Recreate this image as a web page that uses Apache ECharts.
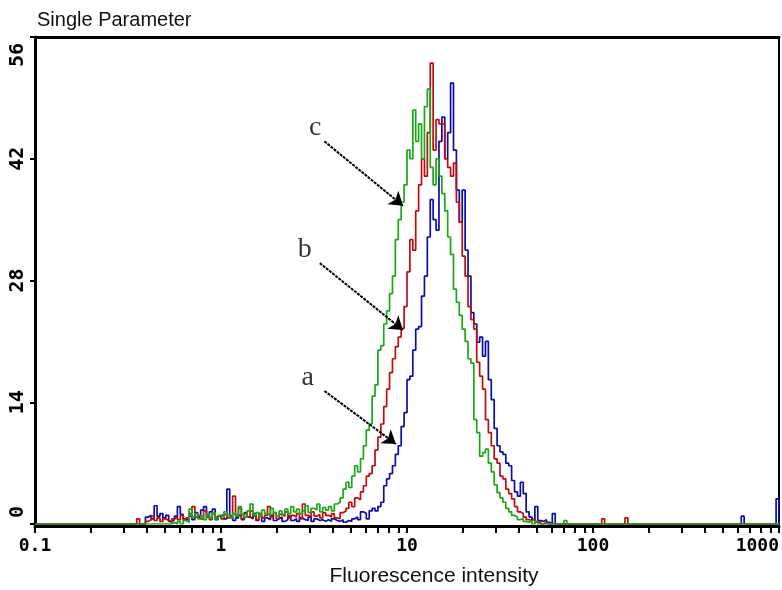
<!DOCTYPE html>
<html><head><meta charset="utf-8">
<script src="https://cdn.jsdelivr.net/npm/echarts@6/dist/echarts.min.js"></script>
<style>html,body{margin:0;padding:0;background:#fff}#c{width:782px;height:590px}</style>
</head><body><div id="c"></div>
<script>
// Channels: 64 log-spaced channels per decade, 0 = 0.1, 256 = 1000
const firstChannel = 34;
const lastChannel = 256;
const decadeChannels = [0, 64, 128, 192, 256];
const tickLabels = ['0.1', '1', '10', '100', '1000'];
const yMax = 56;
const yInterval = 14;

// counts for channels 34..179
const blueCounts = [
 0,0,0,0,0.8,1.0,0.6,2.1,0.9,1.2,
 0.7,1.0,0.3,0.5,0.9,2.0,1.1,0.6,0.4,0.9,
 0.5,1.3,0.7,1.6,2.0,0.8,1.4,1.7,0.5,0.9,
 1.1,0.6,4.0,0.9,0.4,0.7,1.0,0.5,1.3,0.8,
 0.6,1.2,0.4,0.9,0.3,0.7,0.5,1.0,0.4,0.6,
 0.8,0.3,0.5,0.9,0.4,0.6,0.3,0.7,0.5,0.4,
 0.8,0.3,0.6,0.4,0.5,0.3,0.5,0.3,0.6,0.4,
 0.3,0.5,0.2,0.4,0.3,0.6,0.8,0.5,1.4,1.2,
 0.6,1.5,1.8,1.5,2.0,2.5,4.4,5.2,5.8,6.7,
 8.0,9.0,11.2,12.8,16.6,17.0,20.0,22.4,22.7,26.2,
 28.5,33.0,37.3,35.0,33.8,44.0,46.8,42.0,45.0,50.7,
 43.0,38.4,34.7,38.4,31.5,28.5,24.3,23.0,20.9,21.5,
 19.3,21.0,16.6,14.3,11.0,9.0,8.3,8.0,7.0,6.7,
 5.0,3.7,3.2,4.8,3.5,1.4,0.8,0.5,2.0,0.4,
 0.3,0.5,0.2,0,1.2,0
];
const redCounts = [
 0,0.6,0,0,0.3,0.5,0.9,0.4,0.7,0.3,
 0.6,0.4,0.2,0.6,0.8,0.5,1.0,0.4,0.7,1.2,
 2.0,0.8,1.0,0.6,1.5,0.9,0.5,1.2,0.8,1.0,
 0.6,1.1,0.7,0.9,3.2,1.0,1.8,0.6,1.2,0.8,
 1.5,0.9,0.5,1.2,0.7,1.0,2.0,0.8,1.3,0.6,
 1.1,0.9,1.4,0.7,1.0,0.8,1.2,0.6,2.3,1.0,
 0.8,1.4,0.9,1.1,0.7,1.3,1.0,0.8,1.2,0.7,
 0.6,1.3,1.5,1.8,2.5,2.0,3.0,2.8,3.7,4.4,
 5.5,5.8,6.7,8.5,10.0,11.5,13.5,15.5,17.4,19.0,
 20.4,21.5,22.5,25.0,29.0,32.7,31.5,36.0,39.0,42.0,
 40.0,45.0,53.0,43.0,46.5,46.0,46.0,42.0,41.0,40.0,
 41.5,37.0,34.7,30.8,28.5,25.0,23.5,22.4,18.6,17.0,
 15.5,12.0,10.5,9.0,7.5,7.0,5.5,5.2,4.0,3.5,
 2.9,2.0,1.4,1.2,0.8,0.5,0.4,0.6,0.2,0.3,
 0,0.2,0,0,0,0
];
const greenCounts = [
 0,0,0,0,0,0,0,0,0,0,
 0,0,0,0.2,0,0.3,0,0.4,0.2,1.7,
 0.8,1.2,0.6,0.9,0.5,1.1,0.7,1.3,0.6,1.0,
 0.8,1.4,1.0,0.7,1.2,0.9,2.0,1.1,0.8,1.5,
 2.3,1.0,1.3,0.9,1.6,1.2,1.0,1.8,1.3,0.9,
 1.5,1.1,1.7,1.2,2.0,1.4,1.7,1.2,1.5,2.1,
 1.3,1.8,1.6,2.3,1.4,1.9,1.6,2.0,1.5,2.3,
 2.5,3.0,4.0,4.8,4.2,5.5,6.7,6.0,7.5,9.0,
 10.8,11.5,14.7,16.0,20.0,20.5,23.0,24.5,26.5,28.5,
 32.7,35.0,37.0,39.0,43.0,42.0,47.6,44.0,46.0,42.0,
 48.0,50.0,41.0,39.0,42.0,40.0,38.0,36.0,33.0,31.0,
 27.0,25.5,24.0,22.4,21.0,19.0,18.5,12.0,10.5,7.8,
 8.2,8.6,7.0,6.0,4.5,3.6,3.0,2.5,1.8,1.4,
 1.0,0.8,0.5,0.6,0.3,0.2,0.4,0,0.3,0,
 0,0,0,0,0,0
];
// isolated events above channel 179: [channel, count]
const blueTail = [[243, 0.9], [255, 2.9]];
const redTail = [[195, 0.6], [203, 0.7]];
const greenTail = [[182, 0.4]];

// annotations (data coordinates: channel, count)
const annotationLabels = ['a', 'b', 'c'];
const labelAnchors = [[93.8, 16.8], [92.8, 31.6], [96.4, 45.6]];
const arrowFrom = [[99.6, 15.3], [98.0, 30.0], [99.6, 44.0]];
const arrowTo = [[124.2, 9.2], [126.6, 22.3], [126.6, 36.6]];

function toSteps(counts, tail) {
  const pts = [[0, 0]];
  counts.forEach((v, i) => pts.push([firstChannel + i, v]));
  tail.forEach(p => { pts.push([p[0], p[1]]); pts.push([p[0] + 1, 0]); });
  if (pts[pts.length - 1][0] < lastChannel) pts.push([lastChannel, 0]);
  return pts;
}

const perDecade = decadeChannels[1] - decadeChannels[0];
const tickChannels = [];
for (let d = 0; d < decadeChannels.length - 1; d++) {
  for (let k = 1; k <= 9; k++) tickChannels.push(decadeChannels[d] + perDecade * Math.log10(k));
}
tickChannels.push(decadeChannels[decadeChannels.length - 1]);

const monoFont = {fontFamily: 'DejaVu Sans Mono', fontWeight: 'bold', fontSize: 18, color: '#000'};
const yFont = {fontFamily: 'DejaVu Sans Mono', fontWeight: 'bold', fontSize: 20, color: '#000'};

const chart = echarts.init(document.getElementById('c'), null, {renderer: 'canvas'});
const lineSeries = (name, counts, tail, color, z) => ({
  name, type: 'line', step: 'end', symbol: 'none', z,
  data: toSteps(counts, tail),
  lineStyle: {color, width: 1.7},
  itemStyle: {color},
  emphasis: {disabled: true}, silent: true
});

chart.setOption({
  animation: false,
  backgroundColor: '#fff',
  title: {
    text: 'Single Parameter', left: 37, top: 10, padding: 0,
    textStyle: {fontFamily: 'Liberation Sans', fontSize: 20, fontWeight: 'normal', color: '#111'}
  },
  graphic: [{
    type: 'text', x: 434, y: 566, silent: true,
    style: {text: 'Fluorescence intensity', font: '21px "Liberation Sans"', fill: '#111', align: 'center', verticalAlign: 'top'}
  }],
  grid: {left: 35, right: 2, top: 37, bottom: 66},
  xAxis: [{
    type: 'value', min: 0, max: lastChannel, position: 'bottom', offset: 2,
    axisLine: {show: true, onZero: false, lineStyle: {color: '#000', width: 3}},
    axisTick: {show: true, customValues: tickChannels, length: 7, lineStyle: {color: '#000', width: 2}},
    axisLabel: Object.assign({
      customValues: decadeChannels,
      formatter: v => tickLabels[decadeChannels.indexOf(v)],
      margin: 11, alignMinLabel: 'center', alignMaxLabel: 'right'
    }, monoFont),
    splitLine: {show: false}
  }, {
    type: 'value', min: 0, max: lastChannel, position: 'top',
    axisLine: {show: true, onZero: false, lineStyle: {color: '#000', width: 3}},
    axisTick: {show: false}, axisLabel: {show: false}, splitLine: {show: false}
  }],
  yAxis: [{
    type: 'value', min: 0, max: yMax, interval: yInterval,
    axisLine: {show: true, onZero: false, lineStyle: {color: '#000', width: 3}},
    axisTick: {show: true, length: 5, lineStyle: {color: '#000', width: 2}},
    axisLabel: Object.assign({
      rotate: 90, margin: 7,
      formatter: v => v === 0 ? '  ' + v : (v === yMax ? v + '   ' : String(v))
    }, yFont),
    splitLine: {show: false}
  }, {
    type: 'value', min: 0, max: yMax, position: 'right',
    axisLine: {show: true, onZero: false, lineStyle: {color: '#000', width: 2}},
    axisTick: {show: false}, axisLabel: {show: false}, splitLine: {show: false}
  }],
  series: [
    lineSeries('a', blueCounts, blueTail, '#0c0cae', 2),
    lineSeries('b', redCounts, redTail, '#bd0d0d', 3),
    lineSeries('c', greenCounts, greenTail, '#18a818', 4),
    {
      type: 'scatter', z: 6, silent: true, symbolSize: 1,
      itemStyle: {color: 'rgba(0,0,0,0)'},
      data: annotationLabels.map((t, i) => ({name: t, value: labelAnchors[i]})),
      label: {show: true, position: 'inside', formatter: p => p.name,
        fontFamily: 'Liberation Serif', fontSize: 28, color: '#000'},
      markLine: {
        silent: true, symbol: ['none', 'arrow'], symbolSize: 13, animation: false,
        label: {show: false},
        lineStyle: {color: '#000', width: 2, type: [3, 1]},
        emphasis: {disabled: true},
        data: arrowFrom.map((f, i) => [{coord: f}, {coord: arrowTo[i]}])
      }
    }
  ]
});
</script>
</body></html>
